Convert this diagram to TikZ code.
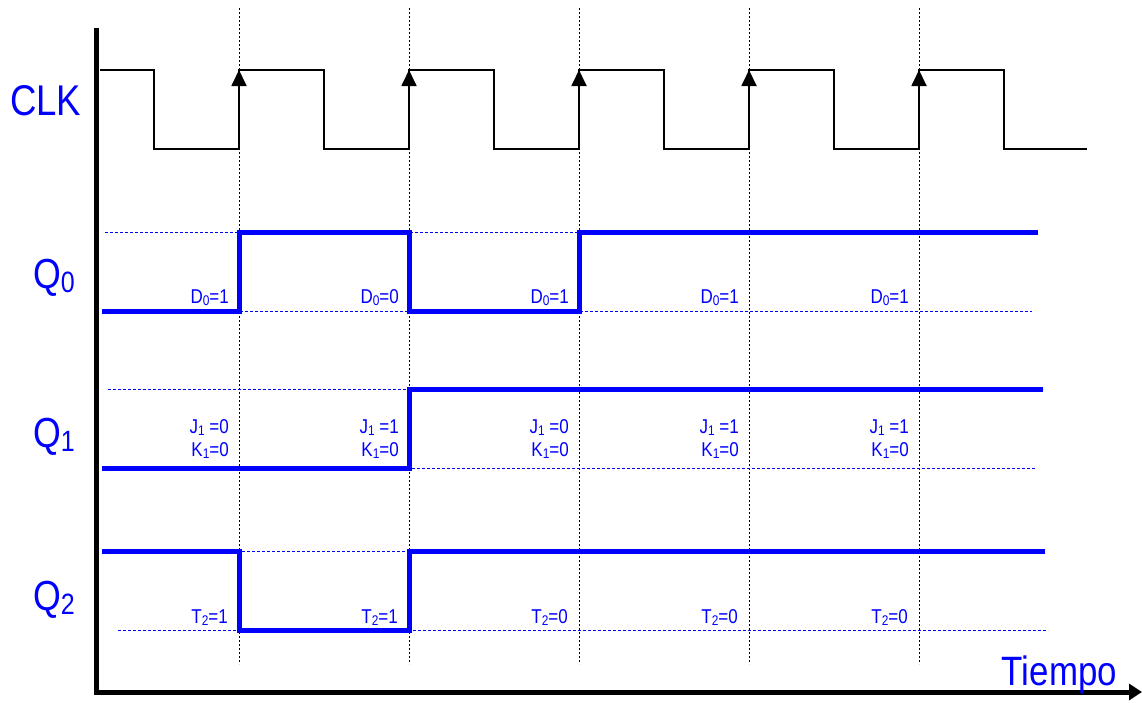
\documentclass[tikz,border=0pt]{standalone}
\usepackage{fontspec}
\usetikzlibrary{arrows.meta}
\newfontfamily\nf[FakeStretch=0.85]{Liberation Sans}
\definecolor{sigblue}{RGB}{0,0,255}
\newcommand\lsub[1]{\raisebox{-0.1em}{\scalebox{0.7}{#1}}}
\begin{document}
\begin{tikzpicture}[x=1pt,y=-1pt,
  clkline/.style={line width=1.8pt, black, line join=miter},
  sigline/.style={line width=5pt, sigblue, line join=miter},
  gridline/.style={line width=0.8pt, black, dash pattern=on 2pt off 2pt},
  levelline/.style={line width=0.8pt, sigblue, dash pattern=on 3pt off 2pt},
  axisline/.style={line width=5pt, black},
  biglbl/.style={font=\nf\fontsize{42}{42}\selectfont, text=sigblue, inner sep=0, anchor=base west},
  smalllbl/.style={font=\nf\fontsize{20}{22}\selectfont, text=sigblue, inner sep=0, anchor=base east}]
\useasboundingbox (0,0) rectangle (1142,702);
% grid verticals
\foreach \x [count=\i] in {239,409,579,749,919}
  \draw[gridline] (\x,8) -- (\x,664);
% level lines
\draw[levelline] (105,232) -- (1038,232);
\draw[levelline] (105,311) -- (1032,311);
\draw[levelline] (108,389) -- (1043,389);
\draw[levelline] (102,468) -- (1035,468);
\draw[levelline] (102,551) -- (1045,551);
\draw[levelline] (118,630) -- (1048,630);
% axes
\draw[axisline] (96,28) -- (96,694);
\draw[axisline,-{Triangle[width=16pt,length=13pt]}] (94,692) -- (1142,692);
% clock
\draw[clkline] (100,70) -- (154,70) -- (154,149) -- (239,149) -- (239,70)
  -- (324,70) -- (324,149) -- (409,149) -- (409,70)
  -- (494,70) -- (494,149) -- (579,149) -- (579,70)
  -- (664,70) -- (664,149) -- (749,149) -- (749,70)
  -- (834,70) -- (834,149) -- (919,149) -- (919,70)
  -- (1004,70) -- (1004,149) -- (1087,149);
\foreach \x in {239,409,579,749,919}
  \draw[clkline,-{Triangle[width=15pt,length=16pt]}] (\x,110) -- (\x,70);
% signals
\draw[sigline] (102,311) -- (239,311) -- (239,232) -- (409,232) -- (409,311)
  -- (579,311) -- (579,232) -- (1038,232);
\draw[sigline] (102,468) -- (409,468) -- (409,389) -- (1043,389);
\draw[sigline] (102,551) -- (239,551) -- (239,630) -- (409,630) -- (409,551) -- (1045,551);
% big labels
\node[biglbl, font=\nf\fontsize{43}{43}\selectfont] (clk) at (10,115) {CLK};
\node[biglbl] (q0) at (33,288) {Q\lsub{0}};
\node[biglbl] (q1) at (33,447) {Q\lsub{1}};
\node[biglbl] (q2) at (33,610) {Q\lsub{2}};
\node[biglbl, anchor=base east, font=\nf\fontsize{41}{41}\selectfont] (tiempo) at (1117,685) {Tiempo};
% D labels
\node[smalllbl] (d1) at (229,303) {D\lsub{0}=1};
\node[smalllbl] (d2) at (399,303) {D\lsub{0}=0};
\node[smalllbl] (d3) at (569,303) {D\lsub{0}=1};
\node[smalllbl] (d4) at (739,303) {D\lsub{0}=1};
\node[smalllbl] (d5) at (909,303) {D\lsub{0}=1};
% J K labels
\node[smalllbl] (j1) at (229,433) {J\lsub{1} =0};
\node[smalllbl] (k1) at (229,456) {K\lsub{1}=0};
\node[smalllbl] (j2) at (399,433) {J\lsub{1} =1};
\node[smalllbl] (k2) at (399,456) {K\lsub{1}=0};
\node[smalllbl] (j3) at (569,433) {J\lsub{1} =0};
\node[smalllbl] (k3) at (569,456) {K\lsub{1}=0};
\node[smalllbl] (j4) at (739,433) {J\lsub{1} =1};
\node[smalllbl] (k4) at (739,456) {K\lsub{1}=0};
\node[smalllbl] (j5) at (909,433) {J\lsub{1} =1};
\node[smalllbl] (k5) at (909,456) {K\lsub{1}=0};
% T labels
\node[smalllbl] (t1) at (228,623) {T\lsub{2}=1};
\node[smalllbl] (t2) at (398,623) {T\lsub{2}=1};
\node[smalllbl] (t3) at (568,623) {T\lsub{2}=0};
\node[smalllbl] (t4) at (738,623) {T\lsub{2}=0};
\node[smalllbl] (t5) at (908,623) {T\lsub{2}=0};
\end{tikzpicture}
\end{document}
